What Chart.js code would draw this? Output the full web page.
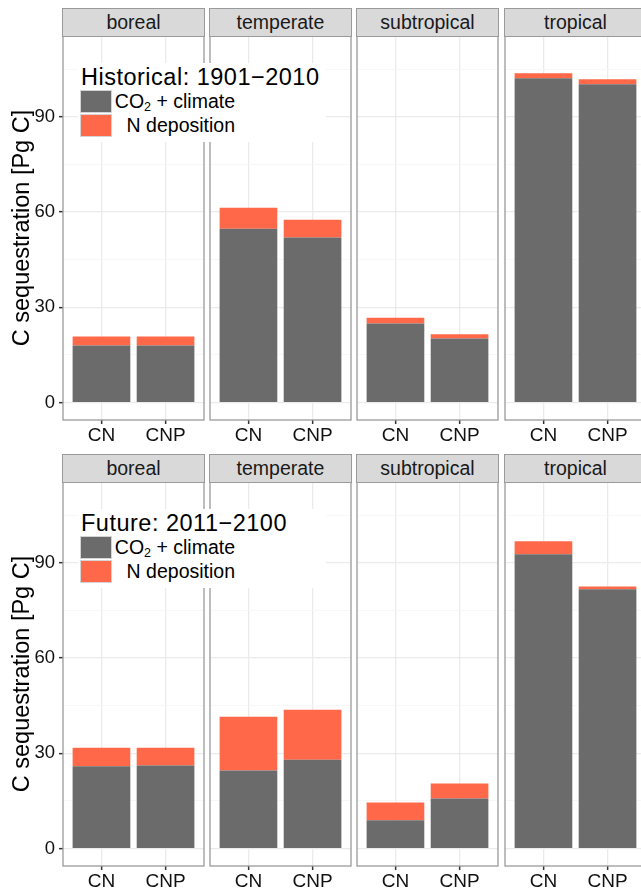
<!DOCTYPE html>
<html lang="en">
<head>
  <meta charset="UTF-8" />
  <title>C sequestration by biome</title>
  <script src="https://cdn.jsdelivr.net/npm/chart.js"></script>
  <style>
    body {
      margin: 0;
      background: #fff;
      font-family: "Liberation Sans", Arial, sans-serif;
      width: 641px;
      height: 888px;
      overflow: hidden;
      position: relative;
    }
    .panel { position: absolute; }
    .strip {
      position: absolute;
      box-sizing: border-box;
      background: #d9d9d9;
      border: 1.3px solid #9a9a9a;
      color: #1a1a1a;
      font-size: 19.5px;
      display: flex;
      align-items: center;
      justify-content: center;
      z-index: 2;
    }
    .legend {
      position: absolute;
      background: #fff;
      width: 248px;
      height: 79px;
      z-index: 5;
    }
    .ltitle {
      position: absolute;
      left: 3px;
      top: 3px;
      font-size: 23.5px;
      letter-spacing: 0.5px;
      line-height: 23px;
      color: #000;
      white-space: nowrap;
    }
    .key {
      position: absolute;
      left: 2px;
      width: 32px;
      height: 23px;
      box-sizing: border-box;
      border: 1.5px solid #d4d4d4;
    }
    .llab {
      position: absolute;
      right: 91px;
      font-size: 19.5px;
      line-height: 23px;
      color: #000;
      white-space: nowrap;
    }
    .llab sub { font-size: 12.5px; vertical-align: -3px; line-height: 0; }
  </style>
</head>
<body>

  <script>
    // facets and bars
    const regions = ["boreal", "temperate", "subtropical", "tropical"];
    const groups = ["CN", "CNP"];
    const seriesNames = ["CO<sub>2</sub> + climate", "N deposition"];
    const periods = ["Historical: 1901\u22122010", "Future: 2011\u22122100"];

    // [Pg C], per region: [CN, CNP]
    const histClimate = [[18.0, 18.0], [54.8, 52.0], [24.9, 20.2], [102.2, 100.3]];
    const histNdep    = [[2.8, 2.8], [6.6, 5.6], [1.8, 1.3], [1.6, 1.6]];
    const futClimate  = [[25.9, 26.2], [24.6, 28.0], [8.9, 15.8], [92.7, 81.7]];
    const futNdep     = [[5.9, 5.6], [16.9, 15.7], [5.6, 4.7], [4.1, 0.9]];

    const yTicks = [0, 30, 60, 90];
    const yMinor = [15, 45, 75, 105];

    const colors = ["#6b6b6b", "#ff6849"];

    // layout
    const colLeft = [63, 210, 357, 505];
    const panelW = 141, panelH = 384;
    const rowTop = [36, 482];
    const axisW = 63, axisH = 40, pad = 4;

    Chart.defaults.font.family = "'Liberation Sans', Arial, sans-serif";
    Chart.defaults.animation = false;

    const panelBorder = {
      id: "panelBorder",
      afterDraw(chart) {
        const { ctx, chartArea: a } = chart;
        ctx.save();
        ctx.strokeStyle = "#9a9a9a";
        ctx.lineWidth = 1.3;
        ctx.strokeRect(a.left, a.top, a.right - a.left, a.bottom - a.top);
        ctx.restore();
      }
    };

    function noPad(s) {
      s.paddingTop = 0; s.paddingBottom = 0;
      s.paddingLeft = 0; s.paddingRight = 0;
    }

    function makePanel(row, col, climate, ndep) {
      const first = col === 0;
      const box = document.createElement("div");
      box.className = "panel";
      const left = first ? 0 : colLeft[col] - pad;
      const width = first ? axisW + panelW + pad : panelW + 2 * pad;
      box.style.left = left + "px";
      box.style.top = (rowTop[row] - pad) + "px";
      box.style.width = width + "px";
      box.style.height = (panelH + axisH + pad) + "px";
      const canvas = document.createElement("canvas");
      box.appendChild(canvas);
      document.body.appendChild(box);

      const isMajor = v => yTicks.includes(v);

      new Chart(canvas, {
        type: "bar",
        data: {
          datasets: [
            {
              label: "climate",
              data: climate.map((v, i) => ({ x: i, y: v })),
              backgroundColor: colors[0]
            },
            {
              label: "ndep",
              data: ndep.map((v, i) => ({ x: i, y: v })),
              backgroundColor: colors[1]
            }
          ]
        },
        options: {
          responsive: true,
          maintainAspectRatio: false,
          layout: { padding: { left: first ? 0 : pad, right: pad, top: pad, bottom: 0 } },
          barPercentage: 0.9,
          categoryPercentage: 1.0,
          plugins: { legend: { display: false }, tooltip: { enabled: false } },
          scales: {
            x: {
              type: "linear",
              min: -0.6,
              max: 1.6,
              offset: false,
              stacked: true,
              afterBuildTicks: s => { s.ticks = groups.map((g, i) => ({ value: i })); },
              afterFit: s => { s.height = axisH; noPad(s); },
              border: { display: false },
              grid: {
                offset: false,
                color: "#ebebeb",
                lineWidth: 1.3,
                tickLength: 4,
                tickColor: "#333",
                tickWidth: 1.5
              },
              ticks: {
                callback: v => groups[v],
                font: { size: 19 },
                color: "#111",
                padding: 0,
                maxRotation: 0,
                autoSkip: false
              }
            },
            y: {
              min: -5.5,
              max: 115.5,
              stacked: true,
              afterBuildTicks: s => {
                s.ticks = yTicks.concat(yMinor).sort((a, b) => a - b).map(v => ({ value: v }));
              },
              afterFit: s => { s.width = first ? axisW : 0; noPad(s); },
              border: { display: false },
              title: {
                display: first,
                text: "C sequestration [Pg C]",
                font: { size: 23.5 },
                color: "#000",
                padding: { top: 8, bottom: 0 }
              },
              grid: {
                color: c => isMajor(c.tick && c.tick.value) ? "#ebebeb" : "#f5f5f5",
                lineWidth: c => isMajor(c.tick && c.tick.value) ? 1.3 : 0.8,
                drawTicks: first,
                tickLength: 4,
                tickColor: c => isMajor(c.tick && c.tick.value) ? "#333" : "rgba(0,0,0,0)",
                tickWidth: 1.5
              },
              ticks: {
                display: first,
                callback: v => isMajor(v) ? v : "",
                font: { size: 18.5 },
                color: "#111",
                padding: 4
              }
            }
          }
        },
        plugins: [panelBorder]
      });

      const strip = document.createElement("div");
      strip.className = "strip";
      strip.textContent = regions[col];
      strip.style.left = (colLeft[col] - 0.6) + "px";
      strip.style.top = (rowTop[row] - 28) + "px";
      strip.style.width = (panelW + 1.2) + "px";
      strip.style.height = "28.6px";
      document.body.appendChild(strip);
    }

    function makeLegend(row) {
      const lg = document.createElement("div");
      lg.className = "legend";
      lg.style.left = "78px";
      lg.style.top = (rowTop[row] + 27) + "px";
      let html = '<div class="ltitle">' + periods[row] + "</div>";
      seriesNames.forEach((name, i) => {
        const top = 27 + i * 23.5;
        html += '<div class="key" style="top:' + top + "px;background:" + colors[i] + '"></div>';
        html += '<div class="llab" style="top:' + top + 'px">' + name + "</div>";
      });
      lg.innerHTML = html;
      document.body.appendChild(lg);
    }

    regions.forEach((r, c) => {
      makePanel(0, c, histClimate[c], histNdep[c]);
      makePanel(1, c, futClimate[c], futNdep[c]);
    });
    makeLegend(0);
    makeLegend(1);
  </script>

</body>
</html>
